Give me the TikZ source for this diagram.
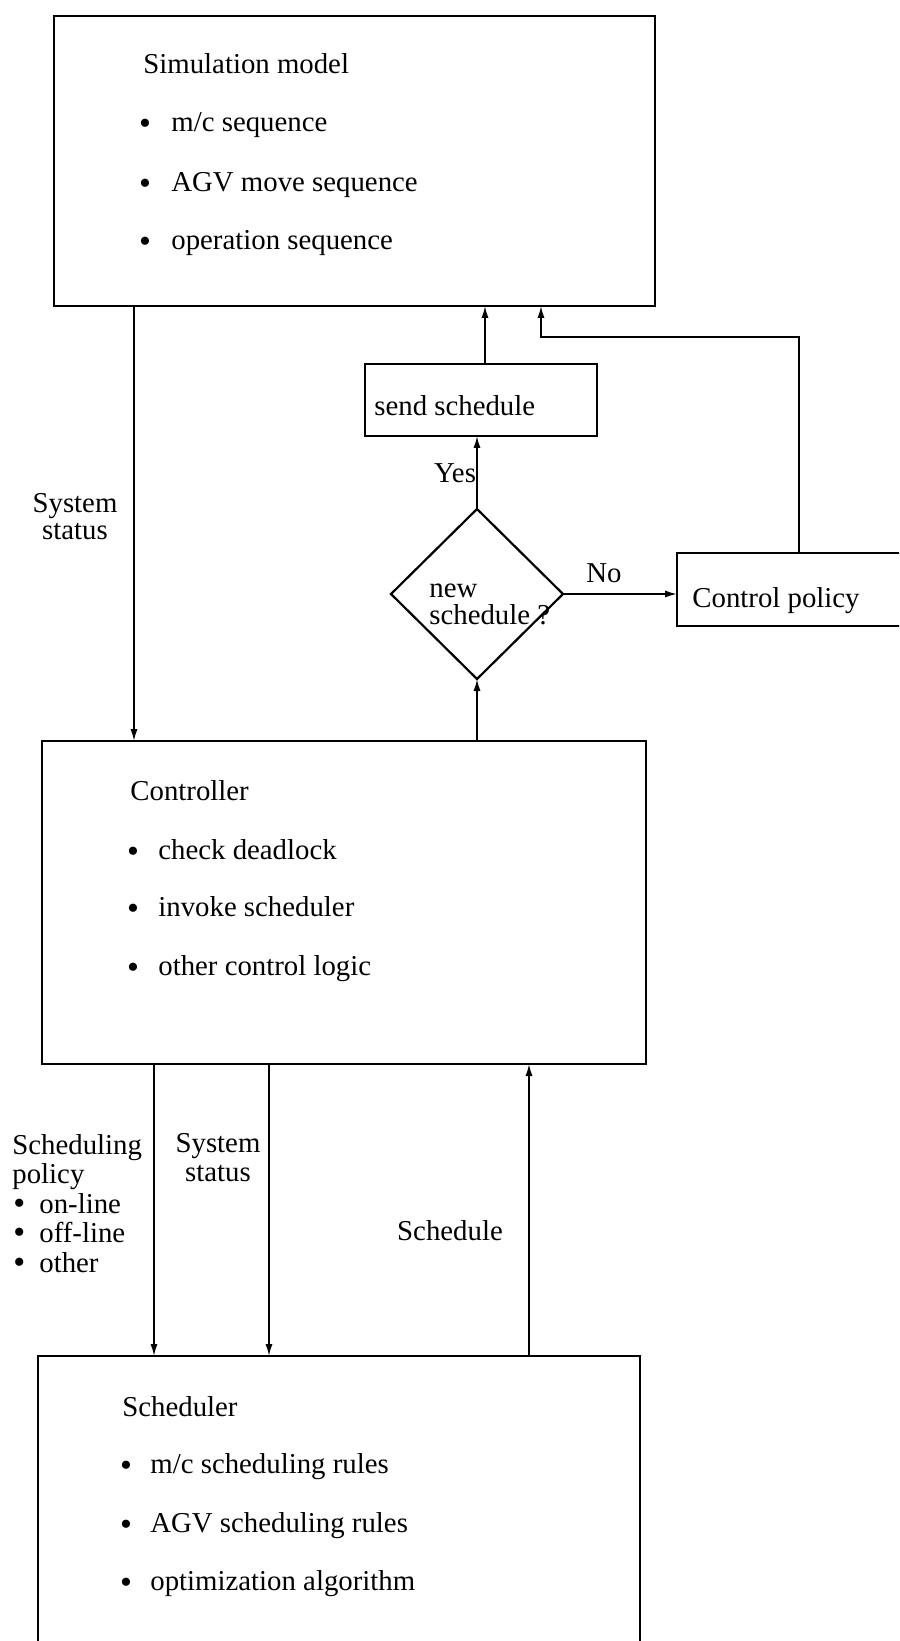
\documentclass[tikz,border=0pt]{standalone}
\usepackage{fontspec}
\setmainfont{Liberation Serif}
\usetikzlibrary{shapes.geometric,fit,arrows.meta}
\newcommand{\bigdot}{\makebox[13.5pt][l]{\hspace{0.5pt}\fontsize{17pt}{15pt}\selectfont\raisebox{-0.6pt}{\textbullet}}}
\begin{document}
\begin{tikzpicture}[x=0.5pt,y=-0.5pt,
  box/.style={draw, line width=1.1pt, inner sep=0pt, outer sep=0pt},
  txt/.style={font=\fontsize{14.4pt}{15pt}\selectfont, inner sep=0pt, anchor=mid west, yshift=-2.8pt},
  ctxt/.style={font=\fontsize{14.4pt}{15pt}\selectfont, inner sep=0pt, anchor=mid, yshift=-2.8pt},
  dot/.style={font=\fontsize{17pt}{15pt}\selectfont, inner sep=0pt, anchor=center, yshift=-2.6pt},
  arr/.style={line width=0.9pt, -{Latex[length=6pt,width=3.6pt]}}]
\path[use as bounding box, clip] (0,0) rectangle (899,1641);

% blocks
\node[box, fit={(54,16) (655,306)}] (sim) {};
\node[box, fit={(365,364) (597,436)}] (send) {};
\node[draw, line width=1.1pt, diamond, inner sep=0pt, outer sep=0pt,
      minimum width=86pt, minimum height=85pt] (dia) at (477,594) {};
\node[box, fit={(677,553) (960,626)}] (pol) {};
\node[box, fit={(42,741) (646,1064)}] (ctrl) {};
\node[box, fit={(38,1356) (640,1700)}] (sched) {};

% simulation model
\node[txt] (simt) at (143,63) {Simulation model};
\node[dot] (sb1) at (145,122) {\textbullet};
\node[txt] (s1) at (171,121) {m/c sequence};
\node[dot] (sb2) at (145,182) {\textbullet};
\node[txt] (s2) at (171,181) {AGV move sequence};
\node[dot] (sb3) at (145,240) {\textbullet};
\node[txt] (s3) at (171,239) {operation sequence};

% controller
\node[txt] (ctrlt) at (130,790) {Controller};
\node[dot] (cb1) at (133,850) {\textbullet};
\node[txt] (c1) at (158,849) {check deadlock};
\node[dot] (cb2) at (133,907) {\textbullet};
\node[txt] (c2) at (158,906) {invoke scheduler};
\node[dot] (cb3) at (133,966) {\textbullet};
\node[txt] (c3) at (158,965) {other control logic};

% scheduler
\node[txt] (schedt) at (122,1406) {Scheduler};
\node[dot] (rb1) at (126,1464) {\textbullet};
\node[txt] (r1) at (150,1463) {m/c scheduling rules};
\node[dot] (rb2) at (126,1523) {\textbullet};
\node[txt] (r2) at (150,1522) {AGV scheduling rules};
\node[dot] (rb3) at (126,1581) {\textbullet};
\node[txt] (r3) at (150,1580) {optimization algorithm};

% small blocks' texts
\node[txt] (sendt) at (374,405) {send schedule};
\node[txt] (polt) at (692,597) {Control policy};
\node[txt] (dia1) at (429,587) {new};
\node[txt] (dia2) at (429,614) {schedule ?};

% labels
\node[ctxt] (yes) at (455,472) {Yes};
\node[ctxt] (no) at (604,572) {No};
\node[ctxt] (ss1a) at (75,502) {System};
\node[ctxt] (ss1b) at (75,529) {status};
\node[font=\fontsize{14.4pt}{14.75pt}\selectfont, inner sep=0pt, anchor=base west,
      align=left] (sp) at (12,1272)
  {Scheduling\\policy\\\bigdot on-line\\\bigdot off-line\\\bigdot other};
\node[ctxt] (ss2a) at (218,1142) {System};
\node[ctxt] (ss2b) at (218,1171) {status};
\node[ctxt] (schl) at (450,1230) {Schedule};

% connector columns
\coordinate (xa) at (134,0);
\coordinate (xb) at (485,0);
\coordinate (cr) at (541,337);
\coordinate (xd) at (799,0);
\coordinate (xe) at (154,0);
\coordinate (xf) at (269,0);
\coordinate (xg) at (529,0);

% connectors
\draw[arr] (sim.south -| xa) -- (ctrl.north -| xa);
\draw[arr] (ctrl.north -| dia.south) -- (dia.south);
\draw[arr] (dia.north) -- (send.south -| dia.north);
\draw[arr] (send.north -| xb) -- (sim.south -| xb);
\draw[arr] (dia.east) -- (pol.west |- dia.east);
\draw[arr] (pol.north -| xd) |- (cr) -- (sim.south -| cr);
\draw[arr] (ctrl.south -| xe) -- (sched.north -| xe);
\draw[arr] (ctrl.south -| xf) -- (sched.north -| xf);
\draw[arr] (sched.north -| xg) -- (ctrl.south -| xg);
\end{tikzpicture}
\end{document}
